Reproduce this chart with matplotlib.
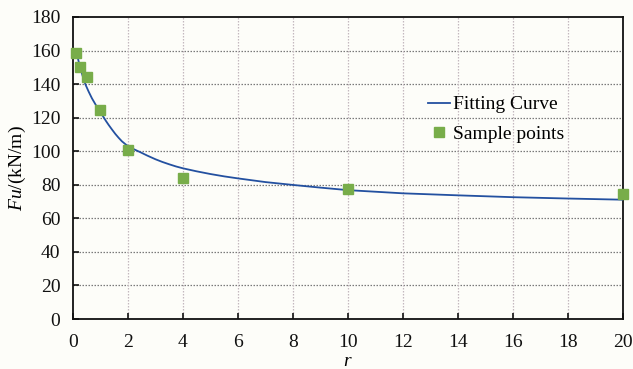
import matplotlib
matplotlib.use("Agg")
import matplotlib.pyplot as plt

# Sample points
sample_r = [0.1, 0.25, 0.5, 1, 2, 4, 10, 20]
sample_fu = [158.3, 150.3, 144.0, 124.7, 100.7, 83.8, 77.5, 74.3]

# Fitting curve
curve_r = [0.15, 0.21, 0.27, 0.36, 0.45, 0.57, 0.69, 0.85, 1.0, 1.1, 1.2, 1.3,
           1.42, 1.54, 1.66, 1.78, 1.92, 2.08, 2.25, 2.45, 2.7, 3.0, 3.25, 3.5,
           3.75, 4.0, 4.5, 5.0, 5.5, 6.0, 7.0, 8.0, 9.0, 10.0, 12.0, 14.0, 16.0,
           18.0, 20.0]
curve_fu = [157.3, 153.2, 149.4, 144.4, 139.9, 135.5, 131.5, 127.0, 123.3, 120.6,
            118.0, 115.6, 112.9, 110.3, 108.0, 105.9, 104.0, 102.3, 100.9, 99.4,
            97.4, 95.2, 93.6, 92.2, 90.9, 89.8, 88.0, 86.4, 85.0, 83.8, 81.6,
            79.9, 78.3, 76.8, 74.9, 73.7, 72.6, 71.8, 71.1]

xticks = list(range(0, 21, 2))
yticks = list(range(0, 181, 20))

plt.rcParams['font.family'] = ['Liberation Serif', 'DejaVu Serif']
plt.rcParams['mathtext.fontset'] = 'custom'
plt.rcParams['mathtext.rm'] = 'Liberation Serif'
plt.rcParams['mathtext.it'] = 'Liberation Serif:italic'

bg = '#fdfdf9'
fig = plt.figure(figsize=(6.33, 3.69), dpi=100, facecolor=bg)
ax = fig.add_axes([0.1153, 0.1355, 0.8687, 0.8185], facecolor=bg)

ax.set_xlim(0, 20)
ax.set_ylim(0, 180)
ax.set_xticks(xticks)
ax.set_yticks(yticks)

for y in yticks[1:-1]:
    ax.axhline(y, color='#7a7a7a', linestyle=(0, (1.2, 1.2)), linewidth=0.9, zorder=1)
for x in xticks[1:-1]:
    ax.axvline(x, color='#c4b8bf', linestyle=(0, (1.2, 1.2)), linewidth=0.9, zorder=1)

ax.plot(curve_r, curve_fu, color='#2350a0', linewidth=1.3, zorder=3, label='Fitting Curve')
ax.plot(sample_r, sample_fu, linestyle='none', marker='s', markersize=7.5,
        color='#78ad4a', markeredgecolor='#78ad4a', zorder=4, label='Sample points',
        clip_on=False)

for s in ax.spines.values():
    s.set_color('#111111')
    s.set_linewidth(1.3)

ax.tick_params(axis='both', direction='in', labelsize=14, colors='#111111',
               length=4, width=1.2, pad=9)
ax.tick_params(axis='x', pad=11)

ax.set_ylabel(r'$\mathit{Fu}$/(kN/m)', fontsize=14, labelpad=2)
ax.set_xlabel(r'$\mathit{r}$', fontsize=14, labelpad=1)

leg = ax.legend(loc='upper left', bbox_to_anchor=(0.632, 0.765), frameon=False,
                fontsize=14, handlelength=1.1, handletextpad=0.15, labelspacing=0.6,
                borderaxespad=0)

fig.savefig('out.png', dpi=100, facecolor=bg)
